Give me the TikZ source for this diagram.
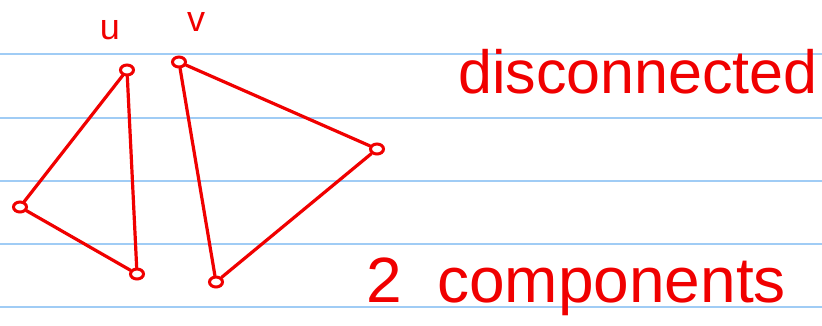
\documentclass[tikz,border=0pt]{standalone}
\usepackage{fontspec}
\setmainfont{Liberation Sans}
\usetikzlibrary{shapes.geometric}
\definecolor{rule}{RGB}{160,204,245}
\definecolor{ink}{RGB}{240,0,0}
\tikzset{
  ruleline/.style={draw=rule, line width=2pt},
  vtx/.style={draw=ink, ellipse, line width=3pt, minimum width=13pt, minimum height=10pt, inner sep=0pt},
  edge/.style={draw=ink, line width=3.2pt, line cap=round},
  handtext/.style={text=ink, inner sep=0pt, anchor=base west},
}
\begin{document}
\begin{tikzpicture}[x=1pt,y=-1pt]
\useasboundingbox (0,0) rectangle (822,325);
\fill[white] (0,0) rectangle (822,325);
\foreach \yy/\nm in {54/r1,118/r2,181/r3,244/r4,307/r5}{
  \coordinate (\nm a) at (0,\yy);
  \coordinate (\nm b) at (822,\yy);
  \draw[ruleline] (\nm a) -- (\nm b);
}
% vertices
\node[vtx] (u) at (127,70) {};
\node[vtx] (v) at (179,62) {};
\node[vtx] (l) at (20,207) {};
\node[vtx] (bl) at (137,274) {};
\node[vtx] (r) at (377,149) {};
\node[vtx] (br) at (216,282) {};
% edges
\draw[edge] (u) -- (l);
\draw[edge] (u) -- (bl);
\draw[edge] (l) -- (bl);
\draw[edge] (v) -- (r);
\draw[edge] (v) -- (br);
\draw[edge] (br) -- (r);
% labels
\node[text=ink, font=\fontsize{36}{36}\selectfont] (lu) at (110,30) {u};
\node[text=ink, font=\fontsize{36}{36}\selectfont] (lv) at (196,22) {v};
\node[handtext, font=\fontsize{61}{61}\selectfont] (t1) at (458,93) {disconnected};
\node[handtext, font=\fontsize{64}{64}\selectfont] (t2) at (366,302) {2\ \ components};
\end{tikzpicture}
\end{document}
